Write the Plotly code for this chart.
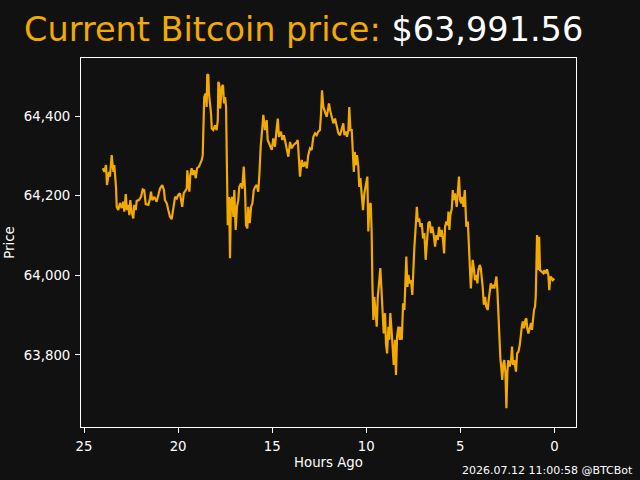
import plotly.graph_objects as go

# Hours ago (x) and BTC price (y)
hours = [
    24.0, 23.92, 23.83, 23.78, 23.67, 23.62, 23.53, 23.44, 23.39, 23.30,
    23.26, 23.18, 23.09, 23.00, 22.91, 22.86, 22.78, 22.72, 22.65, 22.59,
    22.54, 22.47, 22.38, 22.33, 22.25, 22.20, 22.08, 21.97, 21.88, 21.80,
    21.72, 21.58, 21.49, 21.44, 21.37, 21.26,
    21.14, 21.05, 20.96, 20.84, 20.75, 20.70, 20.60, 20.52, 20.43, 20.34,
    20.25, 20.16, 20.07, 19.99, 19.90, 19.84, 19.78, 19.70, 19.63, 19.54,
    19.51, 19.46, 19.40, 19.35, 19.28, 19.22, 19.14, 19.06, 18.99, 18.89,
    18.82, 18.74, 18.69, 18.64, 18.61, 18.53, 18.48, 18.45, 18.39, 18.36,
    18.30, 18.25, 18.21, 18.13, 18.04, 17.95, 17.89, 17.86,
    17.82, 17.76, 17.68, 17.61, 17.56, 17.50, 17.45, 17.40, 17.36, 17.29,
    17.24, 17.19, 17.12, 17.06, 17.01, 16.94, 16.87, 16.80, 16.75, 16.66,
    16.59, 16.51, 16.44, 16.39, 16.32, 16.27, 16.19, 16.12, 16.05, 15.98,
    15.91, 15.82, 15.74, 15.68, 15.61, 15.52, 15.47, 15.38, 15.29, 15.24,
    15.11, 15.02, 14.94, 14.85,
    14.76, 14.70, 14.64, 14.53, 14.46, 14.38, 14.32, 14.23, 14.14, 14.05,
    13.96, 13.87, 13.78, 13.69, 13.64, 13.57, 13.52, 13.43, 13.34, 13.25,
    13.16, 13.08, 12.99, 12.90, 12.81, 12.72, 12.63, 12.55, 12.46, 12.40,
    12.35, 12.28, 12.19, 12.10, 12.05, 11.98, 11.92, 11.83, 11.75, 11.66,
    11.57, 11.48, 11.39, 11.30, 11.22, 11.16, 11.09, 11.02, 10.95, 10.90,
    10.84, 10.77, 10.72, 10.66, 10.61, 10.54, 10.49, 10.42, 10.37, 10.31,
    10.24, 10.17, 10.10, 10.03, 9.94, 9.89, 9.83, 9.76, 9.71, 9.67,
    9.62, 9.57, 9.49, 9.44, 9.39, 9.32, 9.25, 9.18, 9.12, 9.07,
    9.00, 8.95, 8.89, 8.82, 8.77, 8.72, 8.64, 8.59, 8.54, 8.47,
    8.42, 8.36, 8.29, 8.22,
    8.19, 8.11, 8.04, 7.97, 7.92, 7.87, 7.81, 7.76, 7.69, 7.62,
    7.55, 7.50, 7.44, 7.37, 7.31, 7.26, 7.19, 7.12, 7.05, 6.98,
    6.91, 6.84, 6.77, 6.70, 6.62, 6.56, 6.49, 6.41, 6.34, 6.27,
    6.20, 6.13, 6.06, 5.99, 5.92, 5.86, 5.81, 5.74, 5.67, 5.63,
    5.58, 5.53, 5.45, 5.40, 5.35,
    5.28, 5.19, 5.14, 5.07, 5.01, 4.94, 4.89, 4.84, 4.76, 4.71,
    4.68, 4.60, 4.55, 4.50, 4.44, 4.39, 4.34, 4.27, 4.22, 4.15,
    4.09, 4.04, 3.97, 3.91, 3.86, 3.81, 3.75, 3.68, 3.62, 3.54,
    3.49, 3.44, 3.38, 3.33, 3.26, 3.19, 3.14, 3.08, 3.03, 2.98,
    2.92, 2.87, 2.82, 2.77, 2.71, 2.66, 2.60, 2.55, 2.50, 2.45,
    2.37, 2.30, 2.25, 2.20, 2.13,
    2.09, 2.04, 1.98, 1.91, 1.84, 1.79, 1.73, 1.68, 1.61, 1.54,
    1.49, 1.44, 1.38, 1.31, 1.24, 1.19, 1.13, 1.08, 1.03, 0.99,
    0.96, 0.92, 0.87, 0.81, 0.76, 0.67, 0.58, 0.53, 0.46, 0.39,
    0.32, 0.27, 0.21, 0.14, 0.09, 0.0,
]

price = [
    64269, 64260, 64277, 64227, 64260, 64248, 64302, 64260, 64277, 64222,
    64172, 64164, 64182, 64169, 64185, 64160, 64204, 64164, 64177, 64151,
    64189, 64160, 64143, 64177, 64164, 64187, 64189, 64197, 64216, 64214,
    64179, 64177, 64193, 64210, 64189, 64197,
    64185, 64202, 64218, 64227, 64214, 64189, 64181, 64164, 64147, 64141,
    64164, 64197, 64193, 64202, 64206, 64185, 64172, 64206, 64210, 64218,
    64264, 64231, 64210, 64252, 64269, 64252, 64264, 64244, 64269, 64273,
    64281, 64290, 64302, 64373, 64448, 64457, 64423, 64505, 64503, 64457,
    64432, 64407, 64369, 64365, 64377, 64365, 64390, 64486,
    64482, 64419, 64474, 64478, 64432, 64448, 64423, 64206, 64126, 64197,
    64043, 64189, 64197, 64147, 64214, 64114, 64172, 64189, 64222, 64231,
    64218, 64273, 64214, 64126, 64118, 64172, 64131, 64172, 64181, 64214,
    64222, 64227, 64210, 64252, 64323, 64373, 64403, 64365, 64390, 64340,
    64327, 64315, 64344, 64323,
    64369, 64394, 64348, 64361, 64340, 64352, 64340, 64315, 64298, 64335,
    64319, 64327, 64331, 64335, 64340, 64281, 64248, 64290, 64273, 64285,
    64269, 64302, 64319, 64315, 64348, 64357, 64352, 64361, 64365, 64407,
    64465, 64423, 64407, 64398, 64411, 64432, 64415, 64394, 64382, 64394,
    64373, 64357, 64352, 64365, 64382, 64352, 64361, 64348, 64365, 64423,
    64365, 64365, 64323, 64260, 64310, 64277, 64302, 64273, 64222, 64244,
    64202, 64164, 64206, 64222, 64248, 64110, 64177, 64181, 64106, 63976,
    63888, 63946, 63905, 63871, 63942, 63988, 64018, 63955, 63913, 63854,
    63905, 63829, 63804, 63871, 63838, 63905, 63854, 63821, 63775, 63838,
    63750, 63846, 63871, 63838,
    63871, 63838, 63930, 63913, 63963, 64047, 63971, 64001, 63980, 63988,
    63951, 64013, 64072, 64122, 64172, 64135, 64143, 64122, 64131, 64093,
    64106, 64039, 64089, 64131, 64135, 64106, 64122, 64101, 64072, 64101,
    64089, 64122, 64097, 64114, 64089, 64055, 64122, 64135, 64126, 64160,
    64114, 64151, 64168, 64214, 64189,
    64206, 64172, 64206, 64248, 64189, 64181, 64197, 64172, 64214, 64164,
    64122, 64135, 64072, 64022, 63967, 64005, 64039, 64013, 63988, 64001,
    63980, 64013, 64026, 64018, 64001, 63971, 63926, 63946, 63921, 63913,
    63938, 63959, 63980, 63967, 63976, 63967, 63988, 63997, 63963, 63896,
    63846, 63792, 63767, 63737, 63779, 63787, 63754, 63666, 63754, 63787,
    63771, 63787, 63821, 63775, 63787,
    63771, 63758, 63804, 63808, 63825, 63850, 63871, 63884, 63867, 63888,
    63892, 63867, 63854, 63867, 63880, 63863, 63905, 63913, 63921, 63946,
    64013, 64101, 64013, 64097, 64013, 64009, 64005, 64013, 64005, 64015,
    64001, 63963, 63997, 63993, 63988, 63991.56,
]

x_ticks = [25, 20, 15, 10, 5, 0]
y_ticks = [63800, 64000, 64200, 64400]
timestamp_text = "2026.07.12 11:00:58 @BTCBot"

ORANGE = "#F2A900"
BG = "#111111"
FONT = "DejaVu Sans, Verdana, sans-serif"

n = min(len(hours), len(price))
fig = go.Figure(go.Scatter(x=hours[:n], y=price[:n], mode="lines",
                           line=dict(color=ORANGE, width=2.2)))

current = f"${price[-1]:,.2f}"
fig.update_layout(
    width=640, height=480,
    paper_bgcolor=BG, plot_bgcolor=BG,
    margin=dict(l=81, r=64, t=58, b=53),
    showlegend=False,
    font=dict(family=FONT, color="white", size=13.3),
    title=dict(
        text=f"<span style='color:{ORANGE}'>Current Bitcoin price:</span> {current}",
        font=dict(family=FONT, size=33.5, color="white"),
        x=0.4745, xanchor="center", xref="container",
        y=1 - 29 / 480, yanchor="middle", yref="container",
    ),
    xaxis=dict(
        range=[25.16, -1.15], tickvals=x_ticks, ticks="outside", ticklen=5,
        tickcolor="white", showline=True, linecolor="white", linewidth=1,
        mirror=True, showgrid=False, zeroline=False, ticklabelstandoff=2,
        automargin=False,
        title=dict(text="Hours Ago", standoff=4, font=dict(size=13.3)),
        tickfont=dict(size=13.3, color="white"),
    ),
    yaxis=dict(
        range=[63619, 64546], tickvals=y_ticks, tickformat=",d",
        ticks="outside", ticklen=5, tickcolor="white",
        showline=True, linecolor="white", linewidth=1, mirror=True,
        showgrid=False, zeroline=False, ticklabelstandoff=2,
        automargin=False,
        title=dict(text="Price", standoff=6, font=dict(size=13.3)),
        tickfont=dict(size=13.3, color="white"),
    ),
    annotations=[dict(
        text=timestamp_text, xref="paper", yref="paper",
        x=(635 - 81) / 495, y=(427 - 470) / 369, xanchor="right", yanchor="middle",
        showarrow=False, font=dict(family=FONT, size=11, color="white"),
    )],
)

fig.write_html("out.html")
